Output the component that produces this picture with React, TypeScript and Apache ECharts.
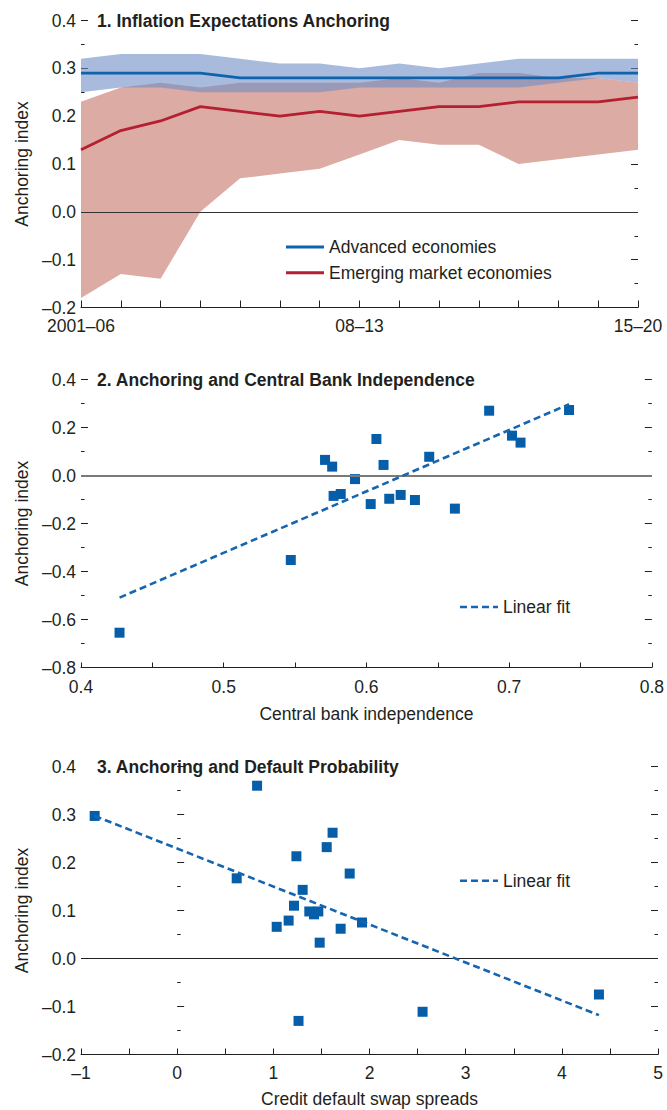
import React, { useEffect, useRef } from "react";
import * as echarts from "echarts";

// ---------- data ----------
const periods = ["2001–06", "02–07", "03–08", "04–09", "05–10", "06–11", "07–12", "08–13", "09–14", "10–15", "11–16", "12–17", "13–18", "14–19", "15–20"];
const periodLabelIdx = [0, 7, 14];
const advMedian = [0.29, 0.29, 0.29, 0.29, 0.28, 0.28, 0.28, 0.28, 0.28, 0.28, 0.28, 0.28, 0.28, 0.29, 0.29];
const advUpper = [0.32, 0.33, 0.33, 0.33, 0.32, 0.31, 0.31, 0.3, 0.31, 0.3, 0.31, 0.32, 0.32, 0.32, 0.32];
const advLower = [0.25, 0.26, 0.26, 0.25, 0.25, 0.25, 0.25, 0.26, 0.26, 0.26, 0.26, 0.26, 0.27, 0.28, 0.27];
const emMedian = [0.13, 0.17, 0.19, 0.22, 0.21, 0.2, 0.21, 0.2, 0.21, 0.22, 0.22, 0.23, 0.23, 0.23, 0.24];
const emUpper = [0.23, 0.26, 0.27, 0.26, 0.27, 0.27, 0.27, 0.27, 0.28, 0.27, 0.29, 0.29, 0.28, 0.28, 0.27];
const emLower = [-0.18, -0.13, -0.14, 0.0, 0.07, 0.08, 0.09, 0.12, 0.15, 0.14, 0.14, 0.1, 0.11, 0.12, 0.13];

const cbiPoints = [
  [0.686, 0.27], [0.742, 0.273], [0.607, 0.152], [0.702, 0.166], [0.708, 0.137],
  [0.571, 0.065], [0.576, 0.037], [0.612, 0.044], [0.644, 0.078], [0.592, -0.015],
  [0.577, -0.085], [0.582, -0.077], [0.603, -0.119], [0.616, -0.097], [0.624, -0.081],
  [0.634, -0.102], [0.662, -0.138], [0.547, -0.352], [0.427, -0.655],
];
const cbiFit = [[0.427, -0.509], [0.742, 0.297]];

const cdsPoints = [
  [-0.858, 0.297], [0.831, 0.36], [1.616, 0.262], [1.555, 0.232], [1.24, 0.213],
  [1.794, 0.177], [0.619, 0.167], [1.305, 0.143], [1.215, 0.11], [1.374, 0.098],
  [1.423, 0.092], [1.468, 0.098], [1.159, 0.079], [1.035, 0.066], [1.7, 0.062],
  [1.922, 0.075], [1.482, 0.033], [1.262, -0.13], [2.552, -0.111], [4.386, -0.075],
];
const cdsFit = [[-0.858, 0.297], [4.386, -0.118]];

const titles = ["1. Inflation Expectations Anchoring", "2. Anchoring and Central Bank Independence", "3. Anchoring and Default Probability"];
const yName = "Anchoring index";
const xNames = ["Central bank independence", "Credit default swap spreads"];
const legend1 = ["Advanced economies", "Emerging market economies"];
const fitName = "Linear fit";

// ---------- style ----------
const FONT = '"Liberation Sans", Arial, sans-serif';
const INK = "#231f20";
const BLUE = "#0f63ad";
const RED = "#b41f32";
const SQ = "#065ea9";
const FS = 17.5;

const fmt1 = (v: number) => (v < -1e-9 ? "–" : "") + Math.abs(v).toFixed(1);
const fmt0 = (v: number) => (v < -1e-9 ? "–" : "") + Math.abs(v).toFixed(0);

const grids = [
  { left: 81, top: 20.5, width: 557, height: 287 },
  { left: 81, top: 379.5, width: 576, height: 288 },
  { left: 81, top: 766.5, width: 577, height: 288 },
];

function yAxes(gridIndex: number, min: number, max: number, interval: number, name: boolean) {
  const common = {
    type: "value",
    gridIndex,
    min,
    max,
    interval,
    axisLine: { show: false },
    splitLine: { show: false },
    axisTick: { show: true, inside: true, length: 7, lineStyle: { color: INK, width: 1 } },
    minorTick: { show: true, splitNumber: 2, length: 3.5, lineStyle: { color: INK, width: 1 } },
  };
  return [
    {
      ...common,
      position: "left",
      name: name ? yName : "",
      nameLocation: "middle",
      nameGap: 49,
      nameTextStyle: { fontFamily: FONT, fontSize: FS, color: INK },
      axisLabel: { show: true, margin: 5, formatter: fmt1, fontFamily: FONT, fontSize: FS, color: INK },
    },
    { ...common, position: "right", axisLabel: { show: false } },
  ];
}

function band(upper: number[], lower: number[], fill: string, z: number) {
  return {
    type: "custom",
    xAxisIndex: 0,
    yAxisIndex: 0,
    silent: true,
    z,
    data: [[0, 0]],
    renderItem: (_p: any, api: any) => {
      const pts: number[][] = [];
      for (let i = 0; i < upper.length; i++) pts.push(api.coord([i, upper[i]]));
      for (let i = lower.length - 1; i >= 0; i--) pts.push(api.coord([i, lower[i]]));
      return { type: "polygon", shape: { points: pts }, style: { fill } };
    },
  };
}

function legendItem(x: number, y: number, color: string, text: string, dash?: number[]) {
  return [
    {
      type: "line",
      shape: { x1: x, y1: y, x2: x + 38, y2: y },
      style: { stroke: color, lineWidth: dash ? 2.6 : 3, lineDash: dash || null },
      z: 100,
    },
    {
      type: "text",
      x: x + 43,
      y,
      z: 100,
      style: {
        text,
        fill: INK,
        font: `${FS}px ${FONT}`,
        align: "left",
        verticalAlign: "middle",
        textAlign: "left",
        textVerticalAlign: "middle",
      },
    },
  ];
}

function titleText(y: number, text: string) {
  return {
    type: "text",
    x: 97,
    y,
    z: 100,
    style: {
      text,
      fill: INK,
      font: `bold ${FS}px ${FONT}`,
      align: "left",
      verticalAlign: "middle",
      textAlign: "left",
      textVerticalAlign: "middle",
    },
  };
}

export default function App() {
  const ref = useRef<HTMLDivElement>(null);
  useEffect(() => {
    if (!ref.current) return;
    const chart = echarts.init(ref.current, undefined, { renderer: "svg" });
    const xTick = { show: true, inside: true, length: 6, lineStyle: { color: INK, width: 1 } };
    const xLine = { show: true, onZero: false, lineStyle: { color: INK, width: 1 } };
    const xLabelBase = { fontFamily: FONT, fontSize: FS, color: INK };
    const option: any = {
      animation: false,
      backgroundColor: "#ffffff",
      grid: grids,
      xAxis: [
        {
          type: "category",
          gridIndex: 0,
          data: periods,
          boundaryGap: false,
          axisLine: xLine,
          axisTick: { ...xTick, length: 7, interval: 0 },
          axisLabel: { ...xLabelBase, margin: 9, interval: (i: number) => periodLabelIdx.includes(i) },
          splitLine: { show: false },
        },
        {
          type: "value",
          gridIndex: 1,
          min: 0.4,
          max: 0.8,
          interval: 0.1,
          axisLine: xLine,
          axisTick: { ...xTick, length: 5 },
          minorTick: { show: true, splitNumber: 2, length: 5, lineStyle: { color: INK, width: 1 } },
          axisLabel: { ...xLabelBase, margin: 10, formatter: fmt1 },
          splitLine: { show: false },
          name: xNames[0],
          nameLocation: "middle",
          nameGap: 37,
          nameTextStyle: { fontFamily: FONT, fontSize: FS, color: INK },
        },
        {
          type: "value",
          gridIndex: 2,
          min: -1,
          max: 5,
          interval: 1,
          axisLine: xLine,
          axisTick: { ...xTick, length: 6 },
          minorTick: { show: true, splitNumber: 2, length: 6, lineStyle: { color: INK, width: 1 } },
          axisLabel: { ...xLabelBase, margin: 9, formatter: fmt0 },
          splitLine: { show: false },
          name: xNames[1],
          nameLocation: "middle",
          nameGap: 35,
          nameTextStyle: { fontFamily: FONT, fontSize: FS, color: INK },
        },
      ],
      yAxis: [
        ...yAxes(0, -0.2, 0.4, 0.1, true),
        ...yAxes(1, -0.8, 0.4, 0.2, true),
        ...yAxes(2, -0.2, 0.4, 0.1, true),
      ],
      series: [
        band(emUpper, emLower, "#dcaba3", 1),
        band(advUpper, advLower, "rgba(110,142,198,0.6)", 2),
        {
          type: "line",
          name: legend1[0],
          xAxisIndex: 0,
          yAxisIndex: 0,
          data: advMedian,
          symbol: "none",
          z: 5,
          lineStyle: { color: BLUE, width: 2.8 },
          markLine: {
            silent: true,
            symbol: "none",
            label: { show: false },
            lineStyle: { color: "#333333", width: 1, type: "solid" },
            data: [{ yAxis: 0 }],
          },
        },
        {
          type: "line",
          name: legend1[1],
          xAxisIndex: 0,
          yAxisIndex: 0,
          data: emMedian,
          symbol: "none",
          z: 5,
          lineStyle: { color: RED, width: 2.8 },
        },
        {
          type: "scatter",
          name: "cbi",
          xAxisIndex: 1,
          yAxisIndex: 2,
          data: cbiPoints,
          symbol: "rect",
          symbolSize: 10,
          z: 4,
          itemStyle: { color: SQ, opacity: 1 },
          markLine: {
            silent: true,
            symbol: "none",
            label: { show: false },
            lineStyle: { color: "#7a7a7a", width: 2, type: "solid" },
            data: [{ yAxis: 0 }],
          },
        },
        {
          type: "line",
          name: fitName,
          xAxisIndex: 1,
          yAxisIndex: 2,
          data: cbiFit,
          symbol: "none",
          z: 5,
          lineStyle: { color: "#1565b0", width: 2.6, type: [7, 4] },
        },
        {
          type: "scatter",
          name: "cds",
          xAxisIndex: 2,
          yAxisIndex: 4,
          data: cdsPoints,
          symbol: "rect",
          symbolSize: 10,
          z: 4,
          itemStyle: { color: SQ, opacity: 1 },
          markLine: {
            silent: true,
            symbol: "none",
            label: { show: false },
            lineStyle: { color: INK, width: 1, type: "solid" },
            data: [{ yAxis: 0 }],
          },
        },
        {
          type: "line",
          name: fitName,
          xAxisIndex: 2,
          yAxisIndex: 4,
          data: cdsFit,
          symbol: "none",
          z: 5,
          lineStyle: { color: "#1565b0", width: 2.6, type: [7, 4] },
        },
      ],
      graphic: [
        titleText(20.5, titles[0]),
        titleText(379.5, titles[1]),
        titleText(766.5, titles[2]),
        ...legendItem(286, 247, BLUE, legend1[0]),
        ...legendItem(286, 272.7, RED, legend1[1]),
        ...legendItem(460, 607, "#1565b0", fitName, [7, 4]),
        ...legendItem(460, 880.7, "#1565b0", fitName, [7, 4]),
      ],
    };
    chart.setOption(option);
    return () => chart.dispose();
  }, []);
  return <div ref={ref} style={{ position: "absolute", left: 0, top: 0, width: 667, height: 1110 }} />;
}
